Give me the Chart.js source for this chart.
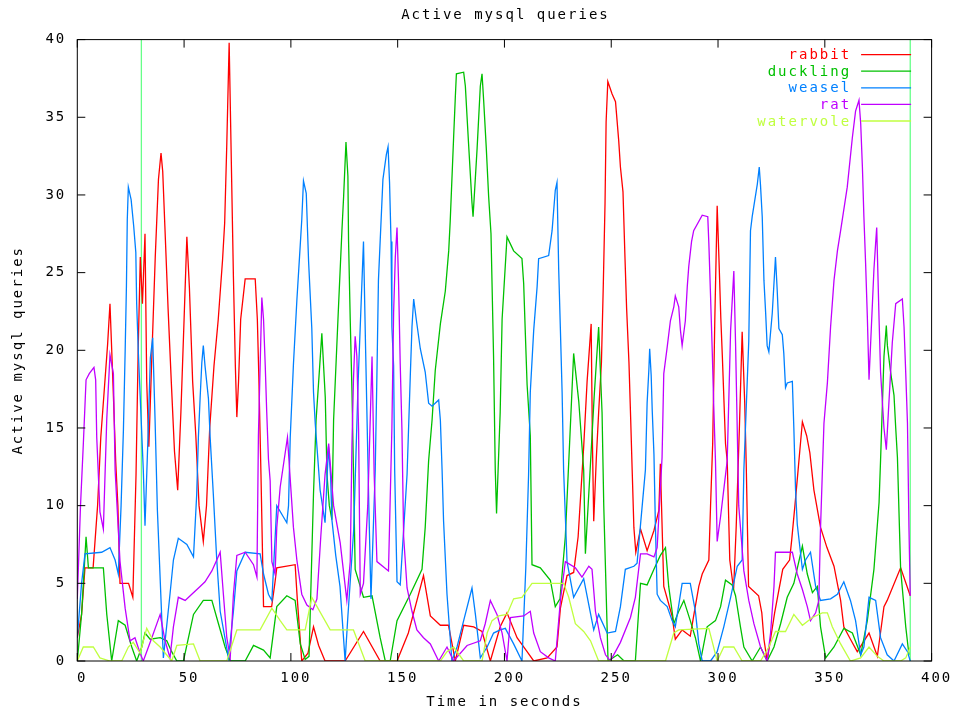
<!DOCTYPE html>
<html>
<head>
<meta charset="utf-8">
<script src="https://cdn.jsdelivr.net/npm/chart.js@4"></script>
<style>
html, body { margin: 0; padding: 0; background: #fff; }
</style>
</head>
<body>
<canvas id="chart" width="955" height="715"></canvas>
<script>
// [time in seconds, active queries]
var rabbit = [[0,1.5],[2,3],[3.6,6],[7.4,6],[9.5,10],[11,14.4],[12.6,17.4],[14.2,20.4],[15.3,23],[16.2,19.7],[17,16.7],[18,12.8],[19,10],[20,5],[24,5],[26,4.1],[27.5,12],[28.5,20],[29.5,26],[30.5,23],[31.7,27.5],[32.5,18],[33.5,13.8],[35,20],[36.5,26],[38,31],[39.2,32.7],[40,31.5],[41,28],[42.5,22.7],[44,18],[45.5,13.5],[47,11],[48.5,16],[50,22],[51.3,27.3],[52.5,24],[54,18],[55.5,14.5],[57,10],[59,7.7],[60.5,10],[62,15],[64,19],[66,22],[68,25.8],[69,28.2],[70,33.3],[71.1,39.8],[72,33],[73.1,24.7],[74,19],[74.7,15.7],[75.5,18],[76.5,22],[78.6,24.6],[83.3,24.6],[84.3,22],[85,18.3],[86,12],[87.2,3.5],[91,3.5],[92.5,5],[93.4,6],[102,6.2],[103,4],[105.1,0],[108,0.5],[110.6,2.2],[113,1],[116,0],[125.4,0],[134,1.9],[141.8,0],[149.7,0],[155,1.8],[162.1,5.5],[165.3,2.9],[170,2.3],[173.8,2.3],[177,0],[180.9,2.3],[185.6,2.2],[189.5,1.9],[193.4,0],[198,2.2],[201.2,3.1],[205.9,1.5],[210.6,0.6],[213.7,0],[220,0.2],[224.6,0.9],[226.2,3.4],[229.3,5.5],[232.4,5.7],[234.5,8],[237.1,13.8],[238.7,18],[240.6,21.7],[241.2,14],[241.8,9],[243,13],[244.1,16],[245.4,19.2],[246.3,24.3],[247.1,29.5],[247.6,34.7],[248.4,37.3],[250.4,36.5],[252,36],[253.5,33.5],[254.3,31.8],[255.5,30.2],[256.4,26.1],[257.2,22.7],[258.3,19.2],[259.1,15.6],[259.8,12.3],[260.6,8.6],[261.5,7],[263.7,8.5],[266.8,7.1],[270,8.4],[272.3,9.7],[273,12.7],[274.6,4.8],[278.5,2.9],[280,1.4],[283.2,2],[287,1.6],[288.6,2.9],[291,4.8],[292.6,5.6],[295.7,6.5],[296.5,10],[297.5,14],[298.5,22],[299.6,29.3],[300.5,25.6],[301.3,22.1],[302,19.7],[303.5,14],[304.3,12.9],[305.5,6.5],[307.3,4.6],[308.5,8.6],[310,15],[311.3,21.2],[312.5,16.6],[313.2,12.7],[314.3,4.8],[319,4.2],[320.5,3.1],[321.5,1.4],[323,0],[326.5,3.1],[330.3,5.9],[333.5,6.5],[334.5,7.8],[336,10],[337.5,12.3],[339.5,15.4],[341.5,14.5],[343,13.4],[344.9,11],[348,8.6],[351,7.3],[354.3,6.1],[357.4,3.9],[358.9,2.2],[362,1.4],[365.2,0.6],[370.7,1.8],[374.6,0.3],[377.7,3.5],[379.2,3.9],[385.5,6],[390,4.2]];

var duckling = [[0,0],[2,3],[4.1,8],[5.2,6],[12.2,6],[13.8,3],[16.1,0],[19.2,2.6],[22.4,2.3],[25.5,0.9],[27.8,0],[30.2,0.9],[31.7,1.8],[34.1,1.4],[38.8,1.5],[41.9,1.3],[44.2,0.6],[46.6,0],[49.7,0],[54.4,3],[59,3.9],[63,3.9],[66.1,2.4],[69.2,0.9],[71.6,0],[78.6,0],[82.5,1],[87.2,0.7],[90.3,0.2],[93.4,3.5],[98.1,4.2],[102,3.9],[104.4,1.1],[106.7,0.1],[108.5,0.3],[110.6,10.8],[111.8,15.5],[113.5,19],[114.5,21.1],[116.1,17],[116.9,12],[118,10],[119.2,9.1],[120,15.5],[122.3,22.8],[123.9,27.7],[124.7,29.9],[125.8,33.4],[126.7,31.2],[127,27.1],[127.8,21.9],[128.6,17.4],[129.3,12.3],[130.1,5.9],[134,4.1],[138,4.2],[141.8,1.5],[144.2,0],[146.5,0],[149.7,2.6],[155.9,4.3],[161.4,5.9],[162.9,8.6],[164.5,12.9],[166.1,15.5],[167.6,18.7],[170,21.7],[172.3,23.8],[173.9,26.4],[174.6,28.3],[176.2,33.7],[177,36.3],[177.5,37.8],[180.9,37.9],[181.7,37],[182.5,35],[183.2,33.3],[184.8,29.5],[185.3,28.6],[187.2,33],[188.7,37],[189.5,37.8],[190.3,36],[191.5,33],[192.6,29.9],[193.7,27.5],[194.9,19.6],[195.7,12.3],[196.3,9.5],[198,16],[198.9,22],[201.2,27.3],[204.3,26.4],[208.2,25.9],[209,24.3],[209.8,21],[210.6,17.8],[212.1,14.5],[212.9,6.2],[216.8,6],[221.5,5.2],[223.8,3.5],[226,4],[228.5,8],[230.5,14],[232.4,19.8],[234.8,16.7],[237.1,12.3],[237.9,6.9],[240,12],[242,17],[244.1,21.5],[245.7,16],[246.5,10],[248.5,0],[253,0.4],[256,0],[261.3,0],[263.7,5],[266.8,4.9],[270,5.9],[273,6.8],[275.4,7.3],[276.9,4.8],[279.3,2.4],[281.6,3.2],[284,3.9],[287,2.6],[289.4,1.5],[291.8,0],[294.9,2.2],[298.8,2.6],[301.2,3.5],[303.5,5.2],[306.6,4.9],[308.2,4.2],[310.5,2.2],[312.1,0.9],[316,0],[319.9,0.9],[323,0],[326.2,0.9],[329.3,2.4],[332.4,4.1],[335.5,5],[339.5,7.4],[341.8,5.6],[344.2,4.4],[346.5,4.8],[348,2.2],[350.4,0.2],[354.3,0.9],[358.9,2.1],[362.9,1.8],[366.8,0.4],[369.9,2.6],[373,5.9],[375.4,10.2],[376.1,12.9],[377.7,19.6],[378.8,21.6],[379.3,20.3],[380.8,18.6],[382.4,17.1],[383.2,15],[384,13.1],[385.5,5.9],[387.9,2.2],[389.4,0.4]];

var weasel = [[0,1.5],[2,5],[3.6,6.9],[11.4,7],[15.3,7.3],[17.7,6.5],[19.2,5.6],[20.5,10],[21.6,14.9],[22.4,19.9],[23,24.1],[23.4,28.4],[23.9,30.5],[25.2,29.7],[26.4,28],[27.4,26.3],[27.8,23],[28.6,19.8],[30.9,12.3],[31.7,8.7],[33,14],[34.2,19.5],[35.3,20.8],[36.4,15.6],[37.5,9.7],[40.3,0.2],[43.4,4.3],[45,6.5],[47.3,7.9],[51.3,7.5],[54.4,6.7],[55.9,10.7],[56.7,14.4],[57.5,16.9],[58.3,19.2],[59,20.3],[59.8,19],[61.4,16.9],[62.2,14.4],[63.7,10.7],[65.3,6.5],[66.9,3.2],[70.8,0.2],[73.1,3.2],[74.7,5.8],[78.6,7],[85.6,6.9],[87.2,5.6],[89.5,4.3],[91.1,3.9],[93.4,10],[98.1,8.9],[98.9,10],[99.7,14.4],[101.2,19.1],[102.8,23.2],[104.4,26.8],[105.1,28.4],[105.9,30.9],[107.2,30.1],[107.8,27.7],[108.3,25.7],[109.8,21.4],[110.6,17.3],[111.4,15.3],[113.7,11],[116,8.9],[117.6,13.8],[118.6,11.9],[119.2,9.1],[121,6.8],[123,4.8],[125.4,0],[126.7,2.9],[129.4,8.4],[130.5,13.4],[131.5,18],[134,27],[135,20],[136.5,10],[137.5,4],[139.5,12.3],[140.3,18.5],[141,24.5],[141.8,27],[143.1,31],[144.7,32.6],[145.5,33.1],[146.2,30.8],[146.9,27],[147.3,21.5],[148.1,19],[148.6,12.3],[149.7,5.1],[151.2,4.9],[154.4,12],[155.9,18.3],[156.7,21.5],[157.5,23.3],[158.7,22],[160.6,20.1],[162.9,18.6],[164.5,16.6],[166.1,16.4],[169.2,16.8],[170,15.5],[170.8,12.3],[171.5,9],[173.1,4.3],[175.4,0],[177.8,0.9],[180.9,2.6],[184.8,4.7],[186.4,3],[188.7,0.2],[191.9,0.9],[194.9,1.8],[198,2],[200.4,2.1],[204.3,1.1],[208.2,0],[210,6],[211.3,12],[212.1,17.3],[213.7,21.3],[215.3,24.1],[216,25.9],[220.7,26.1],[222.3,27.7],[223.8,30.3],[224.6,30.8],[225.4,25.2],[226.2,21.3],[227,17.3],[227.7,12.3],[229.3,6.4],[232.4,4.1],[237.1,5.3],[241.8,2],[244.1,3],[248.1,1.8],[252,1.9],[254.3,3.5],[256.6,5.9],[260.6,6.1],[262.1,6.3],[266,12.3],[266.8,16.6],[267.6,18.7],[268,20.1],[268.7,18.4],[269.2,16.1],[270,13.3],[270.7,8.6],[271.5,4.3],[273,3.9],[276.2,3.5],[278.5,2.6],[280,2.2],[283.2,5],[287,5],[289.4,3.2],[291,1.1],[292.6,0],[296.5,0],[299.6,0.6],[302.7,2.2],[305.9,4.1],[309,6.1],[311.3,6.5],[312.1,12.3],[314.4,20.6],[315.2,27.7],[316,28.6],[318.4,30.7],[319.3,31.8],[319.9,30.6],[320.7,28.6],[321.5,24.5],[322.3,22.4],[323,20.3],[323.8,19.9],[325.4,22.4],[326.9,26],[327.7,23.9],[328.5,21.4],[330.1,21],[330.8,19.8],[331.6,17.6],[332.4,17.9],[334.8,18],[335.5,15],[336.3,11],[337.1,8.8],[339.5,5.9],[341,6.5],[343.3,7],[345.7,4.8],[348,3.9],[352.7,4],[355.9,4.3],[358.9,5.1],[362,3.9],[364.4,2.6],[366.8,0.4],[368.3,0.9],[370.7,4.1],[373.8,3.9],[376.1,1.5],[379.2,0.4],[382.4,0],[386.3,1.1],[388.7,0.6],[390,0]];

var rat = [[0,4],[1.5,10],[2.8,13.9],[4.1,18.1],[5.6,18.5],[7.8,18.9],[8.6,18.1],[9.1,14.4],[10.6,9.6],[12.2,8.5],[13.8,15.6],[15.3,19.7],[16.9,18.5],[17.7,12.3],[20,6.4],[22.4,3.4],[24.7,1.3],[27,1.5],[29.4,0.5],[30.9,0],[34.9,1.5],[38.8,3],[41.1,1.3],[43.4,0.2],[45,2.2],[47.3,4.1],[50.5,3.9],[53.6,4.3],[57.5,4.8],[59.8,5.1],[63,5.8],[65.3,6.5],[66.9,7],[68.4,4.3],[70,1.5],[71.6,0.2],[73.1,4.3],[74.7,6.8],[78.6,7],[82.5,6.2],[84.1,5.4],[84.8,14.5],[86.4,23.4],[87.2,22],[88,19],[88.7,16],[89.5,13],[90.3,11.6],[91.1,6.4],[92.6,5.6],[93.4,8.6],[95,11.2],[98.4,14.4],[101.2,8.6],[102.8,6.5],[105.1,4.3],[107.5,3.6],[110.3,3.3],[112.2,4],[114,8],[116,12],[117.7,14],[120,10],[123.1,7.6],[126.2,3.9],[127.8,6.4],[128.6,13.9],[129.3,18.1],[130.1,20.9],[130.9,19.6],[131.7,14.9],[132.5,4.3],[134,5],[136,10],[138,19.6],[139,12],[140.3,6.4],[145.7,5.8],[147.3,15],[148.1,22.4],[148.9,26],[149.7,27.9],[150.4,24.5],[151.2,19.1],[152,14.9],[152.8,8],[154.4,4.7],[156.7,3.2],[159,2],[162.1,1.5],[165.3,1.1],[169.2,0],[173.1,0.9],[176.2,0],[182.5,1],[188.7,1.3],[191,2.4],[193.4,3.9],[196.5,3],[198.9,1.8],[201.2,0],[202.8,2.8],[209,2.9],[212.1,3.2],[213.7,1.8],[216.8,0.6],[220.7,0.2],[223.8,0],[226.2,3.9],[228.5,6.4],[233.2,6],[236.3,5.4],[239.5,6.1],[241,5.9],[242.6,3.2],[244.9,1.5],[247.3,0.4],[249.6,0],[254.3,1.2],[259,2.8],[261.3,4.1],[263.7,6.9],[266.8,6.9],[270,6.7],[271.5,7.3],[273.8,13.1],[274.6,18.5],[276.2,20.2],[277.7,21.9],[279.3,22.8],[280,23.5],[281.6,22.8],[282.4,21.3],[283.2,20.3],[284.7,21.9],[285.6,24.1],[286.3,25.4],[287.6,27],[288.6,27.7],[292.6,28.7],[295.2,28.6],[295.7,26.9],[296.5,23.5],[297.3,19.9],[298,16.4],[298.8,12.9],[299.6,7.7],[301.2,9.3],[304.3,12.9],[305.9,21.3],[307.4,25.1],[308.2,20.5],[309.7,10],[312.1,5.8],[314.4,3.9],[316.8,2.4],[319.9,0.9],[323,0],[324.6,1.8],[326.2,4.8],[326.9,7],[334.8,7],[337.1,5.6],[339.5,4.6],[341.8,3.5],[343.3,2.6],[345.7,3.1],[347.2,3.9],[348,8.6],[349.6,15.3],[351.2,17.9],[352.7,21.5],[354.3,24.5],[355.9,26.4],[357.4,27.7],[360.5,30.5],[362.9,33.7],[364.4,35.4],[366,36.1],[366.8,34.6],[367.6,31.8],[368.3,28.6],[369.1,25.6],[369.9,22.2],[370.7,18.1],[373,25.2],[373.8,26.9],[374.3,27.9],[375.4,22],[376.1,18.6],[377.7,15],[378.8,13.6],[380,16.6],[381.6,20.5],[383.2,23],[386.3,23.3],[387.1,21.5],[387.9,18.5],[388.7,15.3],[389.4,8.6],[390,4.2]];

var watervole = [[0,0],[2.8,0.9],[7.5,0.9],[10.6,0.2],[15.3,0],[20.8,0],[23.9,0.9],[26.2,1.2],[29.4,0.5],[32.5,2.1],[35.6,1.3],[38.8,0.9],[44.2,0],[46.6,1],[54.4,1.1],[57.5,0],[70,0],[74.7,2],[85.6,2],[91.1,3.4],[95,2.6],[98.1,2],[106.7,2],[109.8,4.1],[118.4,2],[129.3,2],[134.8,0],[170,0],[173.1,0.6],[176.2,0.9],[180.9,0],[189.5,0],[191.9,1.8],[194.2,2.6],[197.3,2.9],[201.2,3],[204.3,4],[208.2,4.1],[212.9,5],[227.7,5],[230.1,4.1],[233.2,2.4],[237.1,1.9],[240.3,1.3],[244.1,0],[275.4,0],[279.3,1.8],[281.6,2],[295.7,2.1],[299.6,0],[302.7,0.9],[307.4,0.9],[311.3,0],[319.9,0],[323.8,0.9],[326.9,1.9],[331.6,1.9],[335.5,3],[339.5,2.3],[344.2,2.8],[348.8,3.1],[351.2,3.1],[353.5,2.2],[357.4,1.1],[362,0],[366.8,0.2],[370.7,0.9],[374.6,0.3],[377.7,0],[385.5,0],[387.9,0.2],[390,0.9]];

var seriesNames = ['rabbit', 'duckling', 'weasel', 'rat', 'watervole'];
var seriesColors = ['#ff0000', '#00c000', '#0080ff', '#c000ff', '#c0ff40'];
var markerTimes = [30, 390];
var xTicks = [0, 50, 100, 150, 200, 250, 300, 350, 400];
var yTicks = [0, 5, 10, 15, 20, 25, 30, 35, 40];
var chartTitle = 'Active mysql queries';

var FONT = '"DejaVu Sans Mono", "Liberation Mono", monospace';
Chart.defaults.font.family = FONT;
Chart.defaults.font.size = 14;
Chart.defaults.color = '#000';

function toPoints(pairs) {
    return pairs.map(function(p) { return {x: p[0], y: p[1]}; });
}

var allSeries = [rabbit, duckling, weasel, rat, watervole];
var datasets = allSeries.map(function(s, i) {
    return {
        label: seriesNames[i],
        data: toPoints(s),
        borderColor: seriesColors[i],
        borderWidth: 1.3,
        pointRadius: 0,
        tension: 0,
        fill: false,
        order: 5 - i
    };
});
markerTimes.forEach(function(t) {
    datasets.push({
        label: '',
        data: [{x: t, y: 0}, {x: t, y: 40}],
        borderColor: '#66ff88',
        borderWidth: 1.3,
        pointRadius: 0,
        fill: false,
        order: 10
    });
});

// gnuplot style frame, inward ticks, title and key
var gnuFrame = {
    id: 'gnuFrame',
    beforeDraw: function(chart) {
        var ctx = chart.ctx;
        ctx.save();
        ctx.fillStyle = '#fff';
        ctx.fillRect(0, 0, chart.width, chart.height);
        ctx.restore();
        ctx.letterSpacing = '2px';
    },
    afterDraw: function(chart) {
        var ctx = chart.ctx, a = chart.chartArea;
        var xs = chart.scales.x, ys = chart.scales.y;
        ctx.save();
        ctx.strokeStyle = '#000';
        ctx.lineWidth = 1;
        ctx.strokeRect(a.left, a.top, a.right - a.left, a.bottom - a.top);
        ctx.beginPath();
        xTicks.forEach(function(v) {
            var p = xs.getPixelForValue(v);
            ctx.moveTo(p, a.bottom); ctx.lineTo(p, a.bottom - 8);
            ctx.moveTo(p, a.top); ctx.lineTo(p, a.top + 8);
        });
        yTicks.forEach(function(v) {
            var p = ys.getPixelForValue(v);
            ctx.moveTo(a.left, p); ctx.lineTo(a.left + 8, p);
            ctx.moveTo(a.right, p); ctx.lineTo(a.right - 8, p);
        });
        ctx.stroke();

        ctx.font = '14px ' + FONT;
        ctx.textBaseline = 'middle';
        ctx.fillStyle = '#000';
        ctx.textAlign = 'center';
        ctx.fillText(chartTitle, (a.left + a.right) / 2 + 1, 15);

        var lineEnd = a.right - 20.5, lineStart = lineEnd - 50, textRight = lineStart - 10;
        ctx.textAlign = 'right';
        seriesNames.forEach(function(name, i) {
            var y = a.top + 15 + i * 16.6;
            ctx.fillStyle = seriesColors[i];
            ctx.fillText(name, textRight, y + 1);
            ctx.strokeStyle = seriesColors[i];
            ctx.lineWidth = 1.3;
            ctx.beginPath();
            ctx.moveTo(lineStart, y);
            ctx.lineTo(lineEnd, y);
            ctx.stroke();
        });
        ctx.restore();
    }
};

new Chart(document.getElementById('chart').getContext('2d'), {
    type: 'line',
    data: { datasets: datasets },
    plugins: [gnuFrame],
    options: {
        responsive: false,
        animation: false,
        layout: { padding: { top: 39.6, right: 23.4, left: 0, bottom: 0 } },
        plugins: {
            legend: { display: false },
            title: { display: false },
            tooltip: { enabled: false }
        },
        scales: {
            x: {
                type: 'linear',
                min: 0,
                max: 400,
                afterBuildTicks: function(s) { s.ticks = xTicks.map(function(v) { return {value: v}; }); },
                afterFit: function(s) { s.height = 54; },
                ticks: { padding: 9, maxRotation: 0, labelOffset: 5, color: '#000' },
                grid: { display: false, drawTicks: false },
                border: { display: false },
                title: { display: true, text: 'Time in seconds', color: '#000', padding: { top: 0, bottom: 4 } }
            },
            y: {
                min: 0,
                max: 40,
                afterBuildTicks: function(s) { s.ticks = yTicks.map(function(v) { return {value: v}; }); },
                afterFit: function(s) { s.width = 77.3; },
                ticks: { padding: 11, color: '#000' },
                grid: { display: false, drawTicks: false },
                border: { display: false },
                title: { display: true, text: 'Active mysql queries', color: '#000', padding: { top: 10, bottom: 0 } }
            }
        }
    }
});
</script>
</body>
</html>
